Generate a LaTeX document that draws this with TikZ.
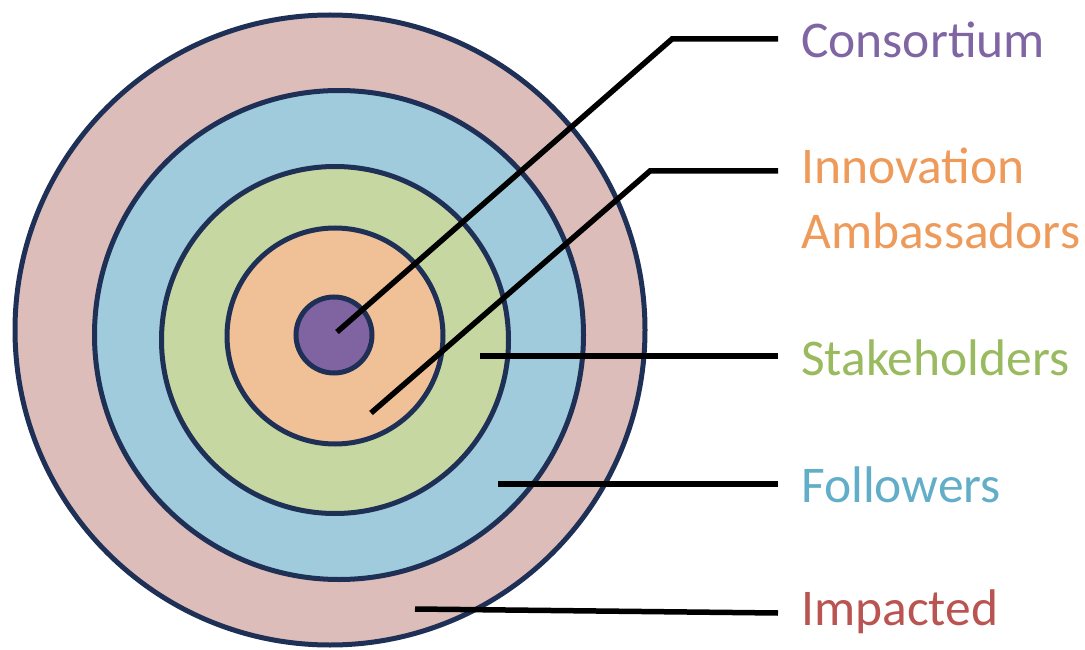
\documentclass[tikz,border=0pt]{standalone}
\usepackage{fontspec}
\setmainfont{Carlito}
\definecolor{ringline}{HTML}{1F3057}
\definecolor{pinkfill}{HTML}{DDBDB9}
\definecolor{bluefill}{HTML}{9FCBDD}
\definecolor{greenfill}{HTML}{C7D7A1}
\definecolor{orangefill}{HTML}{F0C197}
\definecolor{purplefill}{HTML}{8064A2}
\definecolor{txtpurple}{HTML}{7F65A3}
\definecolor{txtorange}{HTML}{EE9A5A}
\definecolor{txtgreen}{HTML}{99BA5E}
\definecolor{txtblue}{HTML}{62ADC8}
\definecolor{txtred}{HTML}{B95451}
\begin{document}
\begin{tikzpicture}[x=1pt,y=-1pt,
  ring/.style={draw=ringline, line width=5pt},
  leader/.style={draw=black, line width=5.5pt},
  lab/.style={anchor=base west, inner sep=0pt, font=\fontsize{51.5}{62}\selectfont}]
\useasboundingbox (0,0) rectangle (1085,650);
% rings
\filldraw[ring, fill=pinkfill]   (330,330) circle[radius=315pt];
\filldraw[ring, fill=bluefill]   (339,335) circle[radius=244.5pt];
\filldraw[ring, fill=greenfill]  (335,340) circle[radius=173.5pt];
\filldraw[ring, fill=orangefill] (335,336) circle[radius=108pt];
\filldraw[ring, fill=purplefill] (334,335) circle[radius=38pt];
% labels
\node[lab, text=txtpurple] (cons) at (801,58) {Consortium};
\node[lab, text=txtorange] (innov) at (801,184) {Innovation};
\node[lab, text=txtorange] (ambas) at (801,248) {Ambassadors};
\node[lab, text=txtgreen] (stake) at (801,375) {Stakeholders};
\node[lab, text=txtblue] (foll) at (801,502) {Followers};
\node[lab, text=txtred] (imp) at (801,625) {Impacted};
% leader points
\coordinate (consS) at (337,332);
\coordinate (consK) at (672,39);
\coordinate (consE) at (778,39);
\coordinate (innS) at (371,413);
\coordinate (innK) at (650,171);
\coordinate (innE) at (778,171);
\coordinate (stkS) at (480,356);
\coordinate (stkE) at (778,356);
\coordinate (folS) at (498,484);
\coordinate (folE) at (778,484);
\coordinate (impS) at (415,609);
\coordinate (impE) at (778,613);
% leaders
\draw[leader] (consS) -- (consK) -- (consE);
\draw[leader] (innS) -- (innK) -- (innE);
\draw[leader] (stkS) -- (stkE);
\draw[leader] (folS) -- (folE);
\draw[leader] (impS) -- (impE);
\end{tikzpicture}
\end{document}
